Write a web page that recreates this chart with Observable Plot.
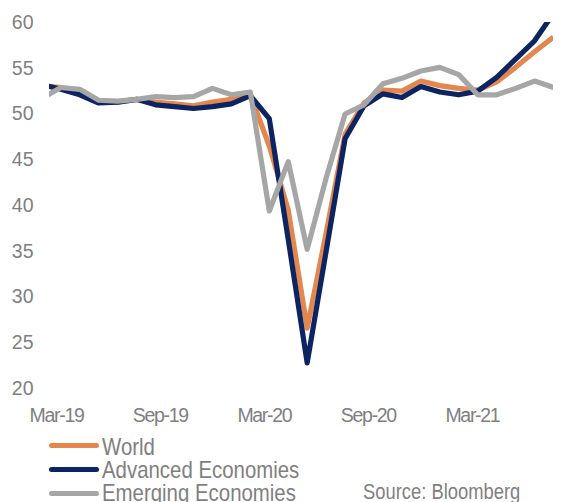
<!DOCTYPE html>
<html>
<head>
<meta charset="utf-8">
<script src="https://cdn.jsdelivr.net/npm/d3@7"></script>
<script src="https://cdn.jsdelivr.net/npm/@observablehq/plot@0.6"></script>
<style>
  body { margin: 0; background: #fff; }
  #wrap { position: relative; width: 571px; height: 502px; overflow: hidden;
          font-family: "Liberation Sans", Arial, sans-serif; color: #7f7f7f; }
  #chart svg { display: block; }
  g[aria-label="x-axis tick label"] text, g[aria-label="x-axis tick label"] { letter-spacing: -1.3px; }
  .lg-sw { position: absolute; height: 5px; border-radius: 2.5px; }
  .lg-tx { position: absolute; font-size: 24px; line-height: 20px; white-space: nowrap;
           transform: scaleX(0.85); transform-origin: 0 0; }
  #source { position: absolute; left: 363px; top: 483px; font-size: 22px; line-height: 18px;
            white-space: nowrap; transform: scaleX(0.835); transform-origin: 0 0; }
</style>
</head>
<body>
<div id="wrap">
  <div id="chart"></div>
  <div id="legend"></div>
  <div id="source">Source: Bloomberg</div>
</div>
<script>
// Months (index 0 = Feb-19, partly cut off at the left edge as in the original)
const months = ["Feb-19","Mar-19","Apr-19","May-19","Jun-19","Jul-19","Aug-19","Sep-19","Oct-19","Nov-19","Dec-19",
  "Jan-20","Feb-20","Mar-20","Apr-20","May-20","Jun-20","Jul-20","Aug-20","Sep-20","Oct-20","Nov-20","Dec-20",
  "Jan-21","Feb-21","Mar-21","Apr-21","May-21"];

const world    = [53.1,52.9,52.2,51.3,51.3,51.6,51.3,51.1,50.9,51.3,51.6,52.1,46.5,39.5,26.6,37.0,47.8,51.2,52.6,52.5,53.6,53.1,52.8,52.6,53.5,55.1,56.8,58.4];
const advanced = [53.2,52.7,52.1,51.2,51.3,51.6,51.0,50.8,50.6,50.8,51.1,52.0,49.5,36.3,22.8,35.0,47.3,50.9,52.2,51.8,53.0,52.4,52.1,52.5,54.0,56.0,58.0,61.0];
const emerging = [51.7,52.9,52.7,51.5,51.4,51.6,51.9,51.8,51.9,52.8,52.1,52.4,39.4,44.8,35.2,43.0,50.0,51.0,53.3,53.9,54.7,55.1,54.3,52.1,52.1,52.8,53.6,52.9];

const seriesNames  = ["World", "Advanced Economies", "Emerging Economies"];
const seriesColors = ["#E3874F", "#0C2461", "#A6A6A6"];

const yTicks = [20, 25, 30, 35, 40, 45, 50, 55, 60];
const xTickLabels = ["Mar-19", "Sep-19", "Mar-20", "Sep-20", "Mar-21"];
const xTickAt     = [0.77, 6.25, 11.74, 17.23, 22.72]; // label positions (month index) as placed in the original

const seriesValues = [world, advanced, emerging];
const rows = [];
seriesValues.forEach((vals, s) => vals.forEach((v, i) => rows.push({series: seriesNames[s], i, month: months[i], v})));

const labelAt = new Map(xTickAt.map((t, k) => [t, xTickLabels[k]]));

const chart = Plot.plot({
  width: 571,
  height: 428,
  marginLeft: 49,
  marginRight: 18,
  marginTop: 22,
  marginBottom: 40,
  style: {fontFamily: "'Liberation Sans', Arial, sans-serif", fontSize: "19.5px", color: "#7f7f7f", background: "#fff"},
  x: {domain: [0.4, 27], ticks: xTickAt, tickFormat: d => labelAt.get(d), tickSize: 0, tickPadding: 20, label: null},
  y: {domain: [20, 60], ticks: yTicks, tickSize: 0, tickPadding: 16, label: null},
  color: {domain: seriesNames, range: seriesColors},
  marks: [
    Plot.line(rows, {x: "i", y: "v", z: "series", stroke: "series", strokeWidth: 5.2,
                     strokeLinejoin: "round", strokeLinecap: "butt", clip: true})
  ]
});
document.getElementById("chart").appendChild(chart);

// Legend below the chart
const legend = document.getElementById("legend");
const swCenters = [445, 469, 493];
const baselines = [455, 478, 501];
seriesNames.forEach((name, k) => {
  const sw = document.createElement("div");
  sw.className = "lg-sw";
  sw.style.left = "49px";
  sw.style.width = "50px";
  sw.style.top = (swCenters[k] - 2.5) + "px";
  sw.style.background = seriesColors[k];
  legend.appendChild(sw);
  const tx = document.createElement("div");
  tx.className = "lg-tx";
  tx.style.left = "102px";
  tx.style.top = (baselines[k] - 18.3) + "px";
  tx.textContent = name;
  legend.appendChild(tx);
});
</script>
</body>
</html>
